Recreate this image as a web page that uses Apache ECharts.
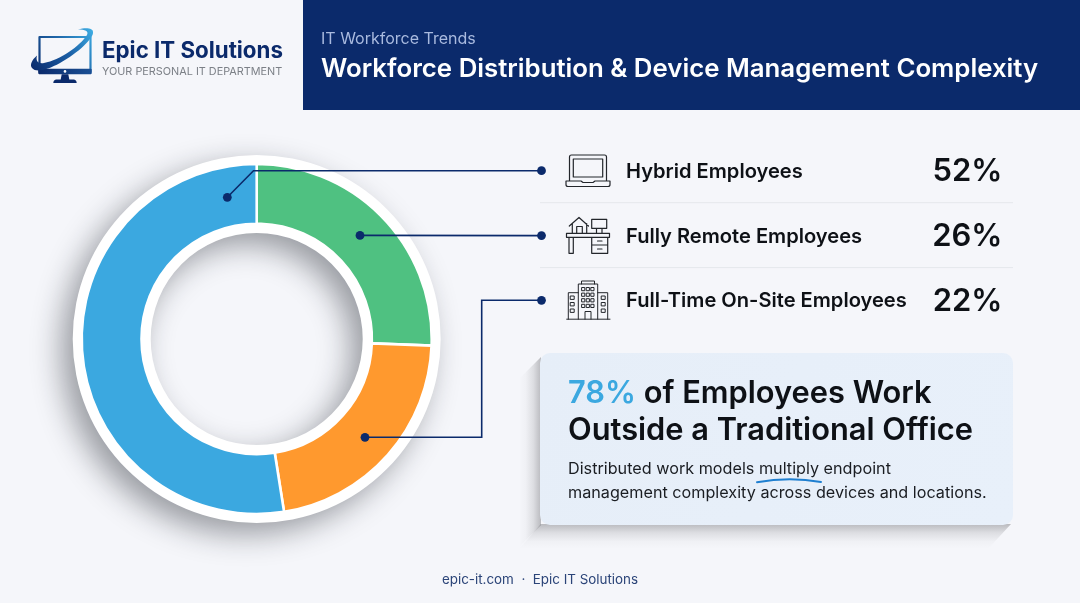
<!DOCTYPE html>
<html><head><meta charset="utf-8">
<style>html,body{margin:0;padding:0;background:#f5f6fa}#c{width:1080px;height:603px}</style>
<script src="https://cdn.jsdelivr.net/npm/echarts@6/dist/echarts.min.js"></script>
</head><body><div id="c"></div>
<script>
const categories = ['Fully Remote Employees', 'Full-Time On-Site Employees', 'Hybrid Employees'];
const statedPercents = [26, 22, 52];
const drawnShares = [25.6, 21.9, 52.5];
const sliceColors = ['#4FC181', '#FF992E', '#3BA8E0'];
const rowOrder = [2, 0, 1];
const eyebrow = 'IT Workforce Trends';
const heading = 'Workforce Distribution & Device Management Complexity';
const brand = 'Epic IT Solutions';
const tagline = 'YOUR PERSONAL IT DEPARTMENT';
const calloutValue = '78%';
const calloutLine1 = ' of Employees Work';
const calloutLine2 = 'Outside a Traditional Office';
const bodyLine1 = 'Distributed work models multiply endpoint';
const bodyLine2 = 'management complexity across devices and locations.';
const footer = 'epic-it.com  ·  Epic IT Solutions';

const NAVY = '#0B2A6B', INK = '#0E1116', FONT = 'Inter, sans-serif';
const cx = 256.7, cy = 339;
const LG = echarts.graphic.LinearGradient;
const chart = echarts.init(document.getElementById('c'), null, {renderer: 'canvas'});

let shapeCount = 0;
function svgType(pathData) {
  const name = 'svgShape' + (shapeCount++);
  echarts.graphic.registerShape(name, echarts.graphic.extendPath(pathData, {}));
  return name;
}
function txt(x, y, text, font, fill, align) {
  return {type: 'text', x, y, z: 20, silent: true,
    style: {text, font, fill, align: align || 'left', verticalAlign: 'middle'}};
}
function filled(pathData, fill, z) {
  return {type: svgType(pathData), z: z || 20, silent: true, style: {fill}};
}
function stroke(pathData, lw, color, z) {
  return {type: svgType(pathData), z: z || 20, silent: true,
    style: {fill: 'none', stroke: color || '#23262B', lineWidth: lw || 1.2, lineJoin: 'round', lineCap: 'round'}};
}
function box(x, y, w, h) { return `M${x} ${y}h${w}v${h}h${-w}Z`; }
function grid(x0, y0, cols, rows, dx, dy, w, h) {
  let s = '';
  for (let r = 0; r < rows; r++) for (let c = 0; c < cols; c++) s += box(x0 + c * dx, y0 + r * dy, w, h);
  return s;
}

const rowY = [170.7, 235.6, 300.3];
const els = [];
// header band
els.push({type: 'rect', z: 5, silent: true, shape: {x: 303, y: 0, width: 777, height: 110}, style: {fill: NAVY}});
els.push(txt(321, 39, eyebrow, '400 16px ' + FONT, '#A9BADF'));
els.push(txt(321, 69.6, heading, '600 25.8px ' + FONT, '#FFFFFF'));

// logo
const grad = new LG(0, 1, 1, 0, [{offset: 0, color: '#0B2A6B'}, {offset: 0.55, color: '#1F66A8'}, {offset: 1, color: '#3BA8E0'}]);
els.push(stroke('M39.5 37H90.5V72H39.5Z', 2.2, grad));
els.push({type: 'rect', z: 20, silent: true, shape: {x: 38.3, y: 68.7, width: 53.4, height: 5.6, r: 1},
  style: {fill: new LG(0, 0, 1, 0, [{offset: 0, color: '#0B2A6B'}, {offset: 1, color: '#1A4F94'}])}});
els.push({type: 'circle', z: 22, silent: true, shape: {cx: 65, cy: 71.4, r: 1.3}, style: {fill: '#FFFFFF'}});
els.push(filled('M61.7 74.3H68.3L69.3 79.5H74Q76.7 80 76.7 83H53.3Q53.3 80 56 79.5H60.7Z', NAVY, 21));
els.push(filled('M78 29.5C86 27.5 93 28 93 32C94 38 78 53 60 63C47 70 36 73 32 68C29.5 64.5 32 60 37 55.5C35.5 61 38 64 44 63C60 60 80 46 87 35C89 31 85 29.5 78 29.5Z',
  new LG(0, 1, 1, 0, [{offset: 0, color: '#0B2A6B'}, {offset: 0.55, color: '#1B5FA6'}, {offset: 1, color: '#3FB0E6'}]), 21));
els.push(txt(102, 51, brand, '700 22.3px ' + FONT, NAVY));
els.push(txt(102, 71.4, tagline, '400 10.85px ' + FONT, '#7C8087'));

// donut base: a white ring whose soft shadow also falls into the hole
els.push({type: 'ring', z: 1, silent: true, shape: {cx, cy, r: 184, r0: 106},
  style: {fill: '#FFFFFF', shadowColor: 'rgba(25,28,38,0.42)', shadowBlur: 30, shadowOffsetX: -11, shadowOffsetY: 11}});

// table rows
rowOrder.forEach((c, i) => {
  els.push(txt(626, rowY[i] + 1, categories[c], '600 20.1px ' + FONT, INK));
  els.push(txt(1002.5, rowY[i] + 1, statedPercents[c] + '%', '600 31px ' + FONT, INK, 'right'));
  if (i < 2) els.push({type: 'line', z: 6, silent: true, shape: {x1: 540, y1: rowY[i] + 32, x2: 1013, y2: rowY[i] + 32}, style: {stroke: '#E5E7EC', lineWidth: 1}});
});

// icons
els.push(stroke('M569.5 180.5V157Q569.5 155 571.5 155H604.5Q606.5 155 606.5 157V180.5M573.3 159H602.7V177H573.3ZM566 181H581L583 182.5H593L595 181H610V184.5Q610 186.5 608 186.5H568Q566 186.5 566 184.5Z'));
els.push(stroke('M566.5 233.3H609.5V237.3H566.5ZM569 237.3V253.3H573.3V237.3M591.7 237.3V253.3H607.7V237.3M591.7 245H607.7M597.5 241H602M597.5 249H602'
  + 'M569.3 226L579 217.5L588.5 226M572.3 223.5V233.3M586.7 223.5V233.3M576.7 233.3V226.5H582.3V233.3'
  + 'M591.7 219.3H606.7V228.3H591.7ZM596.5 228.3V233.3M602 228.3V233.3'));
els.push(stroke('M566.7 319.2H610M578.3 319.2V284H597.7V319.2M581.5 284V281H594.5V284M578.3 292.7H568.3V319.2M597.7 292.7H607.7V319.2M585 319.2V311.5H591V319.2'
  + grid(582, 287.5, 3, 4, 4.6, 5.6, 2.8, 3.2) + grid(570.6, 296, 1, 3, 0, 6.5, 3.6, 3.4) + grid(601.6, 296, 1, 3, 0, 6.5, 3.6, 3.4), 1));

// callout card with its long shadow falling to the lower left
const shadowStops = [{offset: 0, color: 'rgba(25,25,30,0.27)'}, {offset: 0.35, color: 'rgba(25,25,30,0.11)'}, {offset: 0.7, color: 'rgba(25,25,30,0.025)'}, {offset: 1, color: 'rgba(25,25,30,0)'}];
els.push({type: 'polygon', z: 5, silent: true, shape: {points: [[541, 357], [519, 379], [519, 547], [541, 525]]},
  style: {fill: new LG(541, 0, 519, 0, shadowStops, true)}});
els.push({type: 'polygon', z: 5, silent: true, shape: {points: [[541, 524], [519, 549], [988, 549], [1011, 524]]},
  style: {fill: new LG(0, 524, 0, 549, shadowStops, true)}});
els.push({type: 'rect', z: 6, silent: true, shape: {x: 540, y: 353, width: 473, height: 172, r: 10},
  style: {fill: new LG(0, 0, 1, 1, [{offset: 0, color: '#E6EEF8'}, {offset: 1, color: '#E8F0FA'}])}});
els.push({type: 'text', x: 568, y: 393.5, z: 20, silent: true, style: {
  text: '{a|' + calloutValue + '}{b|' + calloutLine1 + '}', verticalAlign: 'middle',
  rich: {a: {font: '600 30.8px ' + FONT, fill: '#3BA8E0'}, b: {font: '600 30.8px ' + FONT, fill: INK}}}});
els.push(txt(568, 431, calloutLine2, '600 30.8px ' + FONT, INK));
els.push(txt(568, 469.3, bodyLine1, '400 16.2px ' + FONT, '#1A1D22'));
els.push(txt(568, 492.8, bodyLine2, '400 16.2px ' + FONT, '#1A1D22'));
els.push(stroke('M757 482.3Q789 476.5 821 482', 1.9, '#1F7FD0', 21));

// footer
els.push(txt(540, 579.6, footer, '400 13.4px ' + FONT, '#2B4478', 'center'));

// leader lines and dots
const leaders = [
  [[227.3, 197.3], [253.5, 170.7], [541.5, rowY[0]]],
  [[360, 235.4], [541.5, rowY[1]]],
  [[365, 437.3], [481.7, 437.3], [481.7, rowY[2]], [541.5, rowY[2]]]
];
leaders.forEach(pts => {
  els.push({type: 'polyline', z: 30, silent: true, shape: {points: pts}, style: {fill: 'none', stroke: NAVY, lineWidth: 1.6}});
  [pts[0], pts[pts.length - 1]].forEach(p => els.push({type: 'circle', z: 31, silent: true, shape: {cx: p[0], cy: p[1], r: 4.4}, style: {fill: NAVY}}));
});

chart.setOption({
  animation: false,
  backgroundColor: '#F5F6FA',
  graphic: {elements: els},
  series: [{
    type: 'pie', z: 2, silent: true, startAngle: 90, clockwise: true,
    center: [cx, cy], radius: [115.2, 175], label: {show: false}, labelLine: {show: false},
    itemStyle: {borderColor: '#FFFFFF', borderWidth: 2.6},
    data: categories.map((name, i) => ({name, value: drawnShares[i], itemStyle: {color: sliceColors[i]}}))
  }]
});
</script></body></html>
